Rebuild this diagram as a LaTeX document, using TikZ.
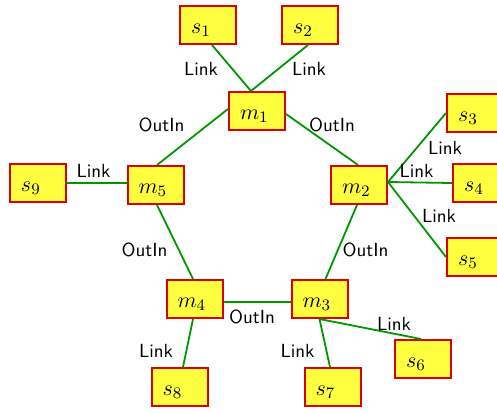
\documentclass[tikz,border=0pt]{standalone}
\usetikzlibrary{calc}
\definecolor{boxfill}{RGB}{255,255,64}
\definecolor{boxline}{RGB}{220,0,0}
\definecolor{linkgreen}{RGB}{0,150,0}
\begin{document}
\begin{tikzpicture}[x=0.5pt,y=-0.5pt,
  box/.style={rectangle,draw=boxline,fill=boxfill,line width=1pt,inner sep=0pt,
    text width=28pt,text height=13.5pt,text depth=5.5pt,align=left,
    font=\fontsize{11}{13}\selectfont,
    execute at begin node={\hspace*{5.5pt}}},
  conn/.style={draw=linkgreen,line width=0.9pt},
  lbl/.style={anchor=base,inner sep=0pt,font=\fontsize{9.5}{11.4}\selectfont\sffamily}]
\useasboundingbox (0,0) rectangle (497,412);
% nodes
\node[box] (s1) at (208,25) {$s_1$};
\node[box] (s2) at (310,25) {$s_2$};
\node[box] (m1) at (257,111) {$m_1$};
\node[box] (m5) at (155.5,185) {$m_5$};
\node[box] (s9) at (38,183) {$s_9$};
\node[box] (m2) at (359,185) {$m_2$};
\node[box] (s3) at (475,113) {$s_3$};
\node[box] (s4) at (481,183) {$s_4$};
\node[box] (s5) at (475,257) {$s_5$};
\node[box] (m4) at (194.5,299) {$m_4$};
\node[box] (m3) at (319.5,299) {$m_3$};
\node[box] (s8) at (179.5,387) {$s_8$};
\node[box] (s7) at (332.5,387) {$s_7$};
\node[box] (s6) at (423,359) {$s_6$};
% connectors
\draw[conn] ($(s1.south)+(4,0)$) -- ($(m1.north)+(-6,0)$);
\draw[conn] ($(s2.south)+(-2,0)$) -- ($(m1.north)+(-6,0)$);
\draw[conn] ($(m5.north)+(1.5,0)$) -- ($(m1.west)+(0,-2)$);
\draw[conn] ($(m1.east)+(0,3)$) -- ($(m2.north)+(-1,0)$);
\draw[conn] (s9.east) -- (s9.east -| m5.west);
\draw[conn] ($(m2.east)+(0,-3)$) -- (s3.west);
\draw[conn] ($(m2.east)+(0,-3)$) -- (s4.west);
\draw[conn] ($(m2.east)+(0,-3)$) -- (s5.west);
\draw[conn] ($(m2.south)+(-2,0)$) -- ($(m3.north)+(6,0)$);
\draw[conn] ($(m3.west)+(0,3)$) -- ($(m4.east)+(0,3)$);
\draw[conn] ($(m4.north)+(-1.5,0)$) -- ($(m5.south)+(1.5,0)$);
\draw[conn] ($(m4.south)+(-1.5,0)$) -- ($(s8.north)+(3.5,0)$);
\draw[conn] (m3.south) -- ($(s7.north)+(-2.5,0)$);
\draw[conn] (m3.south) -- ($(s6.north)+(-2,0)$);
% labels
\node[lbl] (l1) at (201,75) {Link};
\node[lbl] (l2) at (309,75) {Link};
\node[lbl] (o1) at (161.5,131) {OutIn};
\node[lbl] (o2) at (332,131) {OutIn};
\node[lbl] (l3) at (93.5,177) {Link};
\node[lbl] (l4) at (445,154) {Link};
\node[lbl] (l5) at (416.5,177) {Link};
\node[lbl] (l6) at (439,222) {Link};
\node[lbl] (o3) at (144.5,256) {OutIn};
\node[lbl] (o4) at (365.5,256) {OutIn};
\node[lbl] (o5) at (252,323) {OutIn};
\node[lbl] (l7) at (156,357) {Link};
\node[lbl] (l8) at (297.5,357) {Link};
\node[lbl] (l9) at (394,330) {Link};
\end{tikzpicture}
\end{document}
